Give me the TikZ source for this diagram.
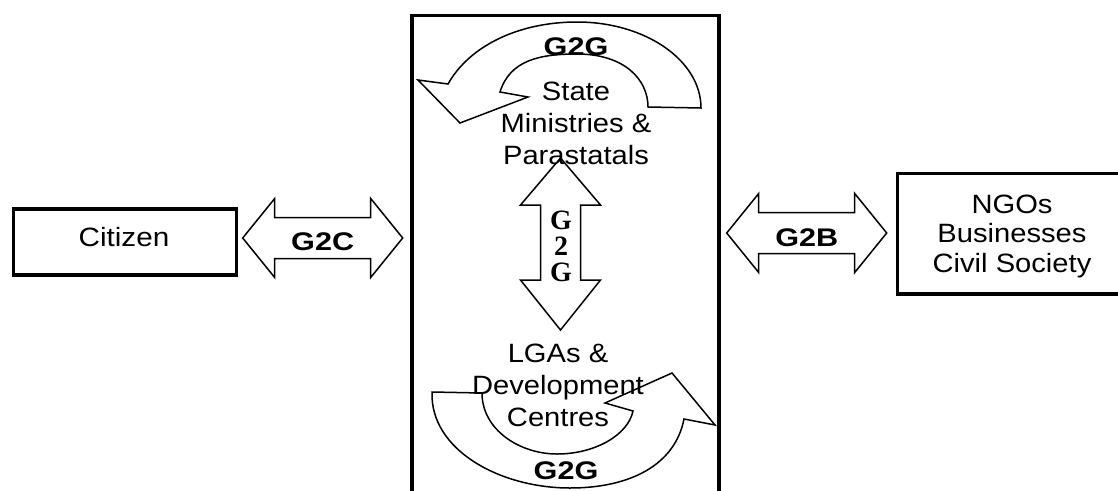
\documentclass[tikz,border=0pt]{standalone}
\usepackage{fontspec}
\setmainfont{Liberation Sans}
\newfontfamily\timesfont{Liberation Serif}
\newcommand{\wide}[2]{\scalebox{#1}[1]{#2}}
\newcommand{\stack}[1]{\begin{tabular}{@{}c@{}}#1\end{tabular}}
\tikzset{
  frame/.style={line width=3.5pt, line join=miter},
  outline/.style={line width=1.5pt, line join=miter, fill=white},
  lbl/.style={font=\fontsize{26.5}{32}\selectfont, inner sep=0pt},
  blbl/.style={font=\bfseries\fontsize{25.5}{30}\selectfont, inner sep=0pt},
  dblarrow/.pic={
    \draw[outline] (-80,0) -- (-48,-39.5) -- (-48,-20.5) -- (48,-20.5) -- (48,-39.5)
      -- (80,0) -- (48,39.5) -- (48,20.5) -- (-48,20.5) -- (-48,39.5) -- cycle;
  }
}
\begin{document}
\begin{tikzpicture}[x=1pt,y=-1pt]
\useasboundingbox (0,0) rectangle (1118,490);

% government frame, open at the bottom
\node[minimum width=307pt, minimum height=476.5pt, inner sep=0pt] (gov) at (565.5,253.75) {};
\draw[frame] (gov.south west) -- (gov.north west) -- (gov.north east) -- (gov.south east);

% outer boxes
\node[draw, frame, minimum width=223pt, minimum height=66pt, inner sep=0pt] (citizenbox) at (125,242) {};
\node[draw, frame, minimum width=222.5pt, minimum height=120.5pt, inner sep=0pt] (ngobox) at (1008.75,233.75) {};

% two-way block arrows between the boxes and the frame
\pic at (322.7,238) {dblarrow};
\pic at (806.7,233) {dblarrow};

% vertical two-way block arrow inside the frame
\draw[outline] (560.5,158) -- (600.5,205) -- (580.5,205) -- (580.5,280) -- (600.5,280)
  -- (560.5,330) -- (520.5,280) -- (540.5,280) -- (540.5,205) -- (520.5,205) -- cycle;

% upper circular arrow
\draw[outline] (701,108) .. controls (701,60.5) and (645.5,22) .. (577,22)
  .. controls (520,22) and (470,45) .. (448,84)
  -- (418,80) -- (460,123) -- (528,97) -- (500,92)
  .. controls (510,60) and (540,54) .. (577,54)
  .. controls (625,54) and (648,80) .. (648,107) -- cycle;

% lower circular arrow
\draw[outline] (432,392) .. controls (430,450) and (500,488) .. (570,488)
  .. controls (630,488) and (675,465) .. (684,419)
  -- (715,425) -- (672,373) -- (605,403) -- (633,411)
  .. controls (628,435) and (595,454) .. (557,454)
  .. controls (520,454) and (482,430) .. (482,393) -- cycle;

% labels
\node[lbl, anchor=base] (citizen) at (124,246.5) {\wide{1.12}{Citizen}};
\node[blbl, anchor=base] (g2c) at (322.7,250) {\wide{1.2}{G2C}};
\node[blbl, anchor=base] (g2b) at (806.7,246.5) {\wide{1.2}{G2B}};
\node[lbl, font=\fontsize{26.5}{29.5}\selectfont] (ngo) at (1012,236.6)
  {\wide{1.1}{\stack{NGOs\\Businesses\\Civil Society}}};
\node[blbl, anchor=base] (g2gtop) at (576,55) {\wide{1.2}{G2G}};
\node[lbl] (state) at (576,125.6)
  {\wide{1.1}{\stack{State\\Ministries \&\\Parastatals}}};
\node[inner sep=0pt, font=\timesfont\bfseries\fontsize{28}{25}\selectfont] (g2gv) at (561,250)
  {\stack{G\\2\\G}};
\node[lbl] (lga) at (558,387.6)
  {\wide{1.1}{\stack{LGAs \&\\Development\\Centres}}};
\node[blbl, anchor=base] (g2gbot) at (566,479) {\wide{1.2}{G2G}};
\end{tikzpicture}
\end{document}
